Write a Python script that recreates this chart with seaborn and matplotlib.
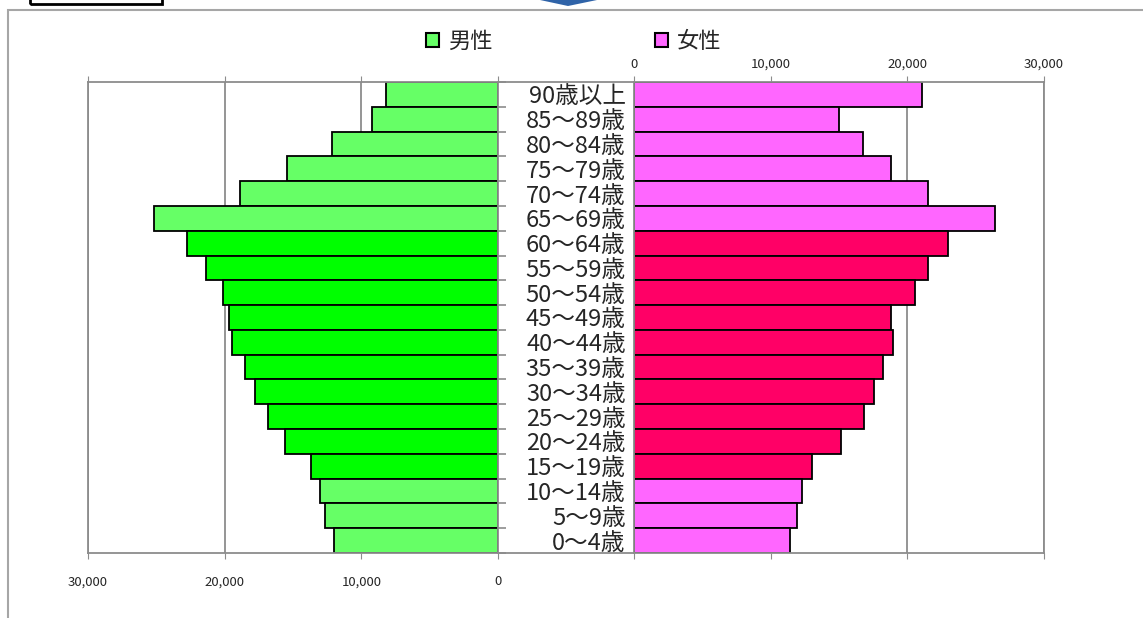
import matplotlib
matplotlib.use('Agg')
import matplotlib.pyplot as plt
import numpy as np
import pandas as pd
import seaborn as sns
from matplotlib.patches import Patch, Rectangle, Polygon
from matplotlib.ticker import FuncFormatter

sns.set_style('white')
plt.rcParams['font.family'] = ['Noto Sans CJK JP', 'DejaVu Sans']

# 年齢階級（上から）
ages = ['90歳以上', '85～89歳', '80～84歳', '75～79歳', '70～74歳', '65～69歳',
        '60～64歳', '55～59歳', '50～54歳', '45～49歳', '40～44歳', '35～39歳',
        '30～34歳', '25～29歳', '20～24歳', '15～19歳', '10～14歳', '5～9歳', '0～4歳']
# 人口（人）
male = [8200, 9200, 12150, 15450, 18850, 25200, 22780, 21400, 20150, 19650,
        19450, 18500, 17800, 16850, 15600, 13700, 13000, 12650, 12000]
female = [21100, 15000, 16750, 18800, 21500, 26450, 23000, 21480, 20570, 18780,
          18950, 18200, 17550, 16850, 15150, 13000, 12300, 11950, 11400]
# 区分: 老年・生産年齢・年少
group = ['old'] * 6 + ['work'] * 10 + ['young'] * 3

male_col = {'old': '#66FF66', 'work': '#00FF00', 'young': '#66FF66'}
female_col = {'old': '#FF66FF', 'work': '#FF0066', 'young': '#FF66FF'}

df = pd.DataFrame({'age': ages, 'male': male, 'female': female, 'group': group})
male_pal = {a: male_col[g] for a, g in zip(ages, group)}
female_pal = {a: female_col[g] for a, g in zip(ages, group)}

W, H = 1143, 618
fig = plt.figure(figsize=(W / 100, H / 100), dpi=100)
bottom = 1 - 553 / H
height = 471 / H
ax_l = fig.add_axes([88 / W, bottom, 410 / W, height])
ax_m = fig.add_axes([498 / W, bottom, 136 / W, height])
ax_r = fig.add_axes([634 / W, bottom, 410 / W, height])

gray = '#8c8c8c'
fmt = FuncFormatter(lambda x, p: f'{x:,.0f}')

sns.barplot(data=df, y='age', x='male', hue='age', palette=male_pal, order=ages,
            orient='h', width=1, edgecolor='black', linewidth=1.3, saturation=1,
            legend=False, ax=ax_l)
sns.barplot(data=df, y='age', x='female', hue='age', palette=female_pal, order=ages,
            orient='h', width=1, edgecolor='black', linewidth=1.3, saturation=1,
            legend=False, ax=ax_r)

# 男性（左）
ax_l.set_xlim(30000, 0)
ax_l.set_ylim(len(ages) - 0.5, -0.5)
ax_l.set_xticks([30000, 20000, 10000, 0])
ax_l.xaxis.set_major_formatter(fmt)
ax_l.tick_params(axis='x', top=True, bottom=True, labeltop=False, labelbottom=True,
                 direction='out', length=4, color=gray, labelsize=9, pad=12)
ax_l.yaxis.tick_right()
ax_l.set_yticks(range(len(ages)))
ax_l.set_yticklabels([])
ax_l.set_yticks(np.arange(-0.5, len(ages), 1), minor=True)
ax_l.tick_params(axis='y', which='major', length=0)
ax_l.tick_params(axis='y', which='minor', length=6, color=gray, width=1.2, direction='out')
ax_l.grid(axis='x', color=gray, linewidth=1.3)
ax_l.set_axisbelow(True)
ax_l.set_xlabel('')
ax_l.set_ylabel('')

# 女性（右）
ax_r.set_xlim(0, 30000)
ax_r.set_ylim(len(ages) - 0.5, -0.5)
ax_r.set_xticks([0, 10000, 20000, 30000])
ax_r.xaxis.set_major_formatter(fmt)
ax_r.tick_params(axis='x', top=True, bottom=True, labeltop=True, labelbottom=False,
                 direction='out', length=4, color=gray, labelsize=9.5, pad=4)
ax_r.set_yticks(range(len(ages)))
ax_r.set_yticklabels(ages, fontsize=17)
ax_r.tick_params(axis='y', length=0, pad=6)
ax_r.grid(axis='x', color=gray, linewidth=1.3)
ax_r.set_axisbelow(True)
ax_r.set_xlabel('')
ax_r.set_ylabel('')
ax_l.tick_params(axis='x', labelsize=9.5)

for ax in (ax_l, ax_r):
    for s in ax.spines.values():
        s.set_color(gray)
        s.set_linewidth(1.3)

# 中央ラベル部分の上下線
ax_m.set_xticks([])
ax_m.set_yticks([])
ax_m.patch.set_alpha(0)
ax_m.spines['left'].set_visible(False)
ax_m.spines['right'].set_visible(False)
for s in ('top', 'bottom'):
    ax_m.spines[s].set_color(gray)
    ax_m.spines[s].set_linewidth(1.3)

# 凡例
fig.legend(handles=[Patch(facecolor='#66FF66', edgecolor='black', linewidth=1.5)],
           labels=['男性'], loc='center left', bbox_to_anchor=(426 / W, 1 - 41 / H),
           frameon=False, fontsize=16, handlelength=0.6, handleheight=0.6,
           handletextpad=0.4, borderpad=0, borderaxespad=0)
fig.legend(handles=[Patch(facecolor='#FF66FF', edgecolor='black', linewidth=1.5)],
           labels=['女性'], loc='center left', bbox_to_anchor=(655 / W, 1 - 41 / H),
           frameon=False, fontsize=16, handlelength=0.6, handleheight=0.6,
           handletextpad=0.4, borderpad=0, borderaxespad=0)

# 外枠など
fig.add_artist(Rectangle((8 / W, -0.05), 1.1, 1 - 10 / H + 0.05, transform=fig.transFigure,
                         fill=False, edgecolor='#a6a6a6', linewidth=1.5))
fig.add_artist(Rectangle((30 / W, 1 - 4 / H), 132 / W, 0.1, transform=fig.transFigure,
                         fill=False, edgecolor='black', linewidth=2))
fig.add_artist(Polygon([(540 / W, 1.0), (597 / W, 1.0), (568 / W, 1 - 6 / H)],
                       closed=True, transform=fig.transFigure,
                       facecolor='#2f63a8', edgecolor='none'))

fig.savefig('out.png', dpi=100)
